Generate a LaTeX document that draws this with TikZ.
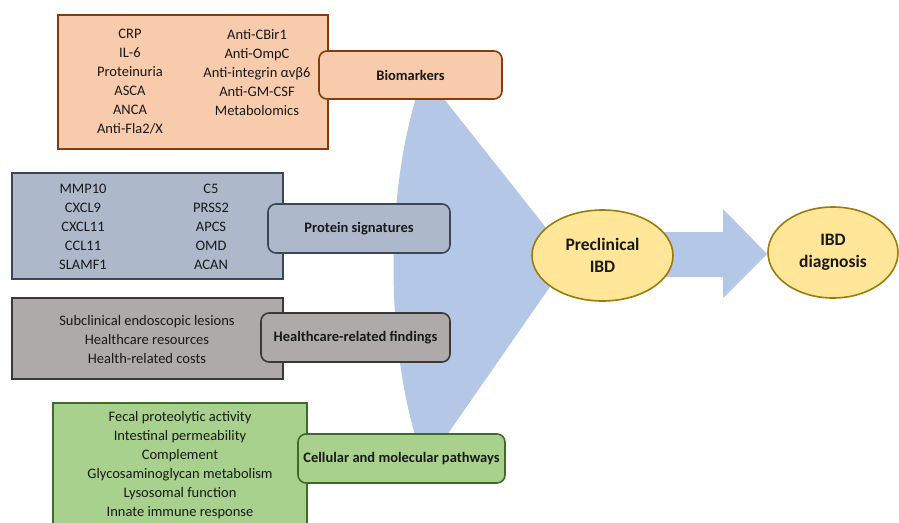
\documentclass[tikz,border=0pt]{standalone}
\usepackage{fontspec}
\setmainfont{Carlito}
\usetikzlibrary{shapes.geometric}
\definecolor{orfill}{HTML}{F8CBAD}
\definecolor{ordraw}{HTML}{843C0C}
\definecolor{blfill}{HTML}{ADB9CA}
\definecolor{bldraw}{HTML}{3B4656}
\definecolor{grfill}{HTML}{AEAAAA}
\definecolor{grdraw}{HTML}{3B3838}
\definecolor{gnfill}{HTML}{A9D18E}
\definecolor{gndraw}{HTML}{3F6B28}
\definecolor{yefill}{HTML}{FFE699}
\definecolor{yedraw}{HTML}{9C7A0C}
\definecolor{funnel}{HTML}{B4C7E7}
\tikzset{
  listtext/.style={align=center,inner sep=0pt,font=\fontsize{14.5}{19}\selectfont,text=black!90},
  labtext/.style={inner sep=0pt,font=\fontsize{14.5}{18}\selectfont\bfseries,text=black!90},
  detailbox/.style={line width=1.6pt},
  labelbox/.style={line width=1.6pt,rounded corners=8pt},
  ovalnode/.style={ellipse,draw=yedraw,fill=yefill,line width=1.6pt,inner sep=0pt,align=center,font=\fontsize{17.5}{21.5}\selectfont\bfseries,text=black!90},
}
\begin{document}
\begin{tikzpicture}[x=1pt,y=-1pt]
\useasboundingbox (0,0) rectangle (899,522);
% funnel
\fill[funnel] (433,85) -- (570,258) -- (440,445) -- (418,445)
  .. controls (385,340) and (385,190) .. (420,85) -- cycle;
% arrow
\fill[funnel] (660,232) -- (723,232) -- (723,209) -- (767,254) -- (723,298) -- (723,277) -- (660,277) -- cycle;

% Biomarkers
\draw[detailbox,draw=ordraw,fill=orfill] (58,15) rectangle (328,149);
\node[listtext] (bioL) at (130,82) {CRP\\IL-6\\Proteinuria\\ASCA\\ANCA\\Anti-Fla2/X};
\node[listtext] (bioR) at (257,72.5) {Anti-CBir1\\Anti-OmpC\\Anti-integrin αvβ6\\Anti-GM-CSF\\Metabolomics};
\draw[labelbox,draw=ordraw,fill=orfill] (319,51) rectangle (502,99);
\node[labtext] (bio) at (410.5,75) {Biomarkers};

% Protein signatures
\draw[detailbox,draw=bldraw,fill=blfill] (12,173) rectangle (283,279);
\node[listtext] (proL) at (83,227) {MMP10\\CXCL9\\CXCL11\\CCL11\\SLAMF1};
\node[listtext] (proR) at (211,227) {C5\\PRSS2\\APCS\\OMD\\ACAN};
\draw[labelbox,draw=bldraw,fill=blfill] (268,204) rectangle (450,253);
\node[labtext] (pro) at (359,228.5) {Protein signatures};

% Healthcare
\draw[detailbox,draw=grdraw,fill=grfill] (12,298) rectangle (283,379);
\node[listtext] (heaL) at (147,339.5) {Subclinical endoscopic lesions\\Healthcare resources\\Health-related costs};
\draw[labelbox,draw=grdraw,fill=grfill] (261,313) rectangle (450,362);
\node[labtext] (hea) at (355.5,337.5) {Healthcare-related findings};

% Cellular
\draw[detailbox,draw=gndraw,fill=gnfill] (53,403) rectangle (307,540);
\node[listtext] (celL) at (180,465.5) {Fecal proteolytic activity\\Intestinal permeability\\Complement\\Glycosaminoglycan metabolism\\Lysosomal function\\Innate immune response};
\draw[labelbox,draw=gndraw,fill=gnfill] (298,434) rectangle (505,483);
\node[labtext] (cel) at (401.5,458.5) {Cellular and molecular pathways};

% ellipses
\node[ovalnode,minimum width=141pt,minimum height=91pt] (pre) at (602.5,255.5) {Preclinical\\IBD};
\node[ovalnode,minimum width=130pt,minimum height=91pt] (diag) at (833,252.5) {IBD\\diagnosis};
\end{tikzpicture}
\end{document}
